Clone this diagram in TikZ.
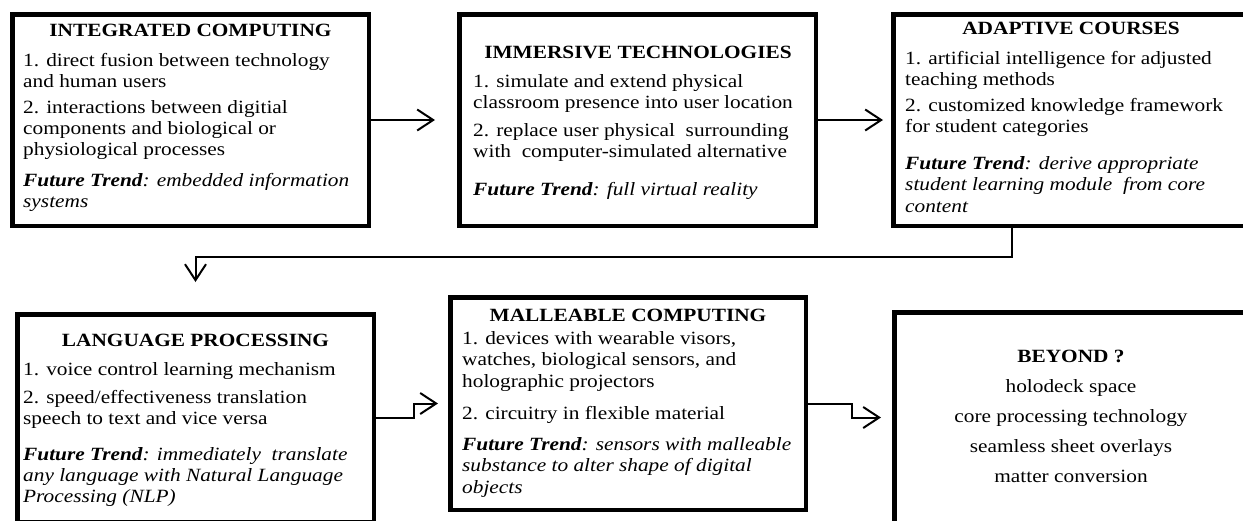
\documentclass[tikz,border=0pt]{standalone}
\usepackage{fontspec}
\setmainfont{Liberation Serif}[FakeStretch=1.14]
\usetikzlibrary{arrows.meta}
\newcommand\bodyfont{\fontsize{18.7pt}{21.3pt}\selectfont}
% left-aligned lines whose baseline is that of the first line
\newcommand\lines[1]{\vtop{\let\\\cr\halign{##\hfil\cr#1\crcr}}}
\begin{document}
\begin{tikzpicture}[x=1pt,y=-1pt,
  panel/.style={draw=black, line width=4.5pt, fill=white, inner sep=0pt},
  conn/.style={draw=black, line width=2pt,
    -{Straight Barb[length=16pt,width=21pt,line width=2pt]}},
  hd/.style={anchor=base, inner sep=0pt, font=\bodyfont\bfseries},
  para/.style={anchor=base west, inner sep=0pt, font=\bodyfont},
  trend/.style={para, font=\bodyfont\itshape},
  item/.style={anchor=base, inner sep=0pt, font=\bodyfont}]

\fill[white] (0,0) rectangle (1243,520);
\useasboundingbox (0,0) rectangle (1243,520);
\clip (0,0) rectangle (1243,520);

% the six panels
\node[panel, minimum width=356.5pt, minimum height=211.5pt] (b1) at (190.5,120) {};
\node[panel, minimum width=356.5pt, minimum height=211.5pt] (b2) at (637.5,120) {};
\node[panel, minimum width=353.5pt, minimum height=211.5pt] (b3) at (1070,120) {};
\node[panel, minimum width=356.5pt, minimum height=207.5pt] (b4) at (195.5,418) {};
\node[panel, minimum width=355.5pt, minimum height=212.5pt] (b5) at (628,403.5) {};
\node[panel, minimum width=352.5pt, minimum height=210.5pt] (b6) at (1070.5,417.5) {};

% integrated computing
\node[hd] (t1) at (190.5,36.5) {INTEGRATED COMPUTING};
\node[para] (p11) at (23,66.5) {\lines{1. direct fusion between technology\\and human users}};
\node[para] (p12) at (23,113) {\lines{2. interactions between digitial\\components and biological or\\physiological processes}};
\node[trend] (f1) at (23,186.5) {\lines{\textbf{Future Trend}: embedded information\\systems}};

% immersive technologies
\node[hd] (t2) at (638,58.5) {IMMERSIVE TECHNOLOGIES};
\node[para] (p21) at (473,87.5) {\lines{1. simulate and extend physical\\classroom presence into user location}};
\node[para] (p22) at (473,136.5) {\lines{2. replace user physical\ \ surrounding\\with\ \ computer-simulated alternative}};
\node[trend] (f2) at (473,195) {\lines{\textbf{Future Trend}: full virtual reality}};

% adaptive courses
\node[hd] (t3) at (1071,34) {ADAPTIVE COURSES};
\node[para] (p31) at (905,64.5) {\lines{1. artificial intelligence for adjusted\\teaching methods}};
\node[para] (p32) at (905,111) {\lines{2. customized knowledge framework\\for student categories}};
\node[trend] (f3) at (905,169.5) {\lines{\textbf{Future Trend}: derive appropriate\\student learning module\ \ from core\\content}};

% language processing
\node[hd] (t4) at (195.5,346.5) {LANGUAGE PROCESSING};
\node[para] (p41) at (23,375.5) {\lines{1. voice control learning mechanism}};
\node[para] (p42) at (23,403) {\lines{2. speed/effectiveness translation\\speech to text and vice versa}};
\node[trend] (f4) at (23,460) {\lines{\textbf{Future Trend}: immediately\ \ translate\\any language with Natural Language\\Processing (NLP)}};

% malleable computing
\node[hd] (t5) at (628,321.5) {MALLEABLE COMPUTING};
\node[para] (p51) at (462,344.5) {\lines{1. devices with wearable visors,\\watches, biological sensors, and\\holographic projectors}};
\node[para] (p52) at (462,419) {\lines{2. circuitry in flexible material}};
\node[trend] (f5) at (462,450.5) {\lines{\textbf{Future Trend}: sensors with malleable\\substance to alter shape of digital\\objects}};

% beyond
\node[hd] (t6) at (1071,362.5) {BEYOND ?};
\node[item] (q1) at (1071,392.5) {holodeck space};
\node[item] (q2) at (1071,422.5) {core processing technology};
\node[item] (q3) at (1071,452.5) {seamless sheet overlays};
\node[item] (q4) at (1071,482.5) {matter conversion};

% connectors
\draw[conn] (b1.east) -- ([xshift=-22pt]b2.west);
\draw[conn] (b2.east) -- ([xshift=-8pt]b3.west);
\draw[conn] ([xshift=-58pt]b3.south) |- ([yshift=55pt]b4.north) -- ([yshift=30pt]b4.north);
\draw[conn] (b4.east) -- ++(38,0) |- ([xshift=-10pt]b5.west);
\draw[conn] (b5.east) -- ++(44,0) |- ([xshift=-11pt]b6.west);
\end{tikzpicture}
\end{document}
